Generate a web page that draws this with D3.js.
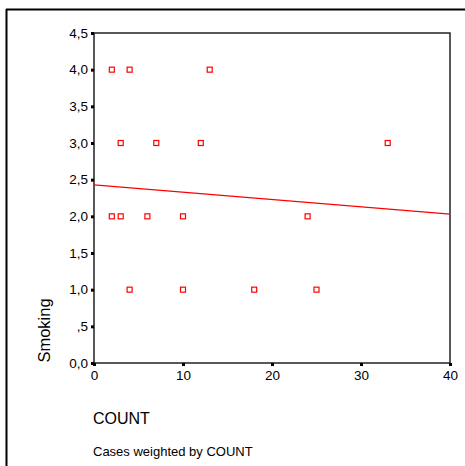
<!DOCTYPE html>
<html>
<head>
<meta charset="utf-8">
<script src="https://cdn.jsdelivr.net/npm/d3@7/dist/d3.min.js"></script>
<style>
  html, body { margin: 0; padding: 0; background: #fff; }
  svg { display: block; }
  text { font-family: "Liberation Sans", Arial, sans-serif; fill: #000; }
</style>
</head>
<body>
<svg id="chart" width="465" height="466"></svg>
<script>
// ---- data ----
const countValues   = [2, 4, 13, 3, 7, 12, 33, 2, 3, 6, 10, 24, 4, 10, 18, 25];
const smokingValues = [4, 4, 4, 3, 3, 3, 3, 2, 2, 2, 2, 2, 1, 1, 1, 1];
const fitLineX = [0, 40];
const fitLineY = [2.43, 2.03];
const xTickValues = [0, 10, 20, 30, 40];
const xTickLabels = ["0", "10", "20", "30", "40"];
const yTickValues = [0, 0.5, 1, 1.5, 2, 2.5, 3, 3.5, 4, 4.5];
const yTickLabels = ["0,0", ",5", "1,0", "1,5", "2,0", "2,5", "3,0", "3,5", "4,0", "4,5"];
const xTitle = "COUNT";
const yTitle = "Smoking";
const footnote = "Cases weighted by COUNT";

// ---- layout ----
const svg = d3.select("#chart");
const pLeft = 94, pRight = 450, pTop = 33, pBottom = 363;

const x = d3.scaleLinear().domain([0, 40]).range([pLeft, pRight]);
const y = d3.scaleLinear().domain([0, 4.5]).range([pBottom, pTop]);

// outer frame (top and left edges visible)
svg.append("line").attr("x1", 6).attr("y1", 9.5).attr("x2", 465).attr("y2", 9.5)
  .attr("stroke", "#000").attr("stroke-width", 2);
svg.append("line").attr("x1", 6.5).attr("y1", 9).attr("x2", 6.5).attr("y2", 466)
  .attr("stroke", "#000").attr("stroke-width", 2);

// plot box
svg.append("rect")
  .attr("x", pLeft).attr("y", pTop)
  .attr("width", pRight - pLeft).attr("height", pBottom - pTop)
  .attr("fill", "#fff").attr("stroke", "#222").attr("stroke-width", 1.5);

// axes
const yAxis = d3.axisLeft(y)
  .tickValues(yTickValues)
  .tickFormat((d, i) => yTickLabels[i])
  .tickSize(3).tickPadding(3);
const gy = svg.append("g").attr("transform", `translate(${pLeft},0)`).call(yAxis);
gy.select(".domain").remove();
gy.selectAll(".tick line").attr("stroke", "#000").attr("stroke-width", 3);
gy.selectAll(".tick text")
  .style("font-family", "'Liberation Sans', Arial, sans-serif")
  .style("font-size", "13.5px").attr("fill", "#000");

const xAxis = d3.axisBottom(x)
  .tickValues(xTickValues)
  .tickFormat((d, i) => xTickLabels[i])
  .tickSize(3).tickPadding(4);
const gx = svg.append("g").attr("transform", `translate(0,${pBottom})`).call(xAxis);
gx.select(".domain").remove();
gx.selectAll(".tick line").attr("stroke", "#000").attr("stroke-width", 3);
gx.selectAll(".tick text")
  .style("font-family", "'Liberation Sans', Arial, sans-serif")
  .style("font-size", "13.5px").attr("fill", "#000");

// fit line
svg.append("line")
  .attr("x1", x(fitLineX[0])).attr("y1", y(fitLineY[0]))
  .attr("x2", x(fitLineX[1])).attr("y2", y(fitLineY[1]))
  .attr("stroke", "#ff0000").attr("stroke-width", 1.2);

// points
const pts = countValues.map((c, i) => ({ c, s: smokingValues[i] }));
svg.append("g").selectAll("rect").data(pts).join("rect")
  .attr("x", d => x(d.c) - 2.5)
  .attr("y", d => y(d.s) - 2.5)
  .attr("width", 5).attr("height", 5)
  .attr("fill", "#fff").attr("stroke", "#ff0000").attr("stroke-width", 1.2);

// titles
svg.append("text")
  .attr("transform", `translate(50,${(298 + 363) / 2}) rotate(-90)`)
  .attr("text-anchor", "middle")
  .style("font-size", "16.5px")
  .text(yTitle);

svg.append("text")
  .attr("x", 93).attr("y", 424)
  .style("font-size", "16px")
  .text(xTitle);

svg.append("text")
  .attr("x", 93).attr("y", 456)
  .style("font-size", "13px")
  .text(footnote);
</script>
</body>
</html>
